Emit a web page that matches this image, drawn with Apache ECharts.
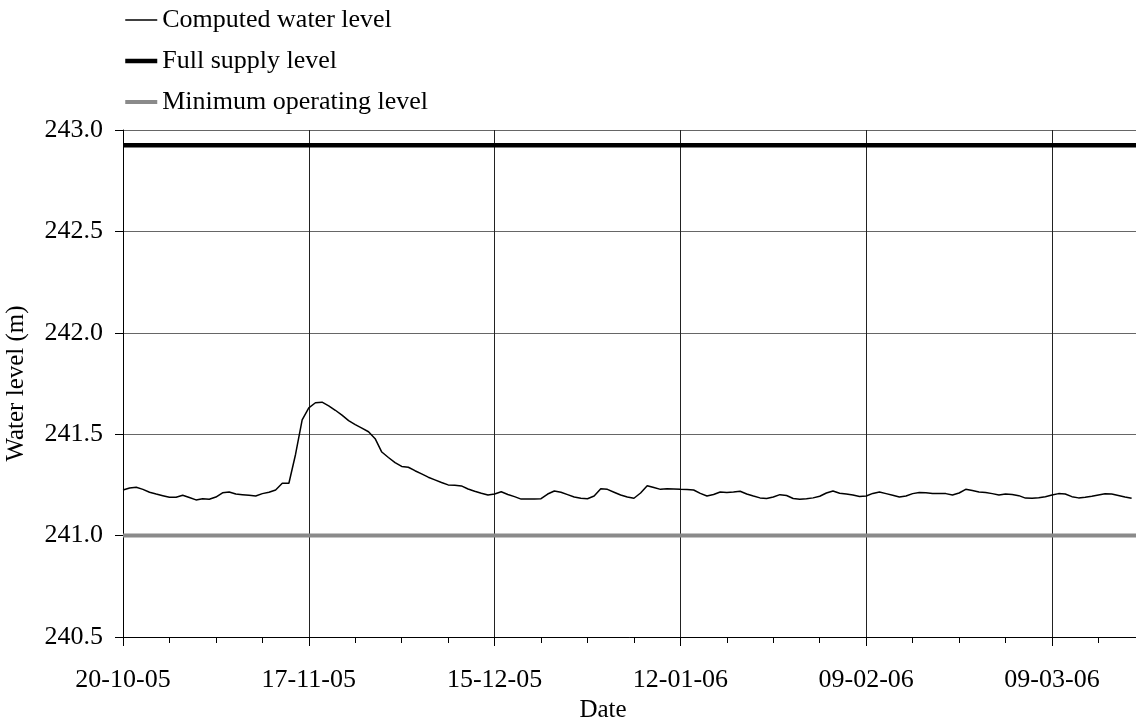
<!DOCTYPE html>
<html>
<head>
<meta charset="utf-8">
<script src="https://cdn.jsdelivr.net/npm/echarts@6/dist/echarts.min.js"></script>
<style>
html,body{margin:0;padding:0;background:#fff;}
#chart{width:1136px;height:722px;}
</style>
</head>
<body>
<div id="chart"></div>
<script>
// ---- data ----
const startDate = '2005-10-20';           // day 0 of the series (daily values)
const seriesNames = ['Computed water level', 'Full supply level', 'Minimum operating level'];
const computedLevel = [
  241.225,241.235,241.238,241.228,241.214,241.205,241.197,241.189,241.189,241.199,
  241.188,241.176,241.182,241.179,241.190,241.211,241.215,241.205,241.202,241.199,
  241.195,241.207,241.214,241.225,241.258,241.258,241.400,241.571,241.630,241.655,
  241.658,241.640,241.618,241.594,241.567,241.547,241.530,241.512,241.478,241.412,
  241.385,241.360,241.341,241.337,241.320,241.304,241.288,241.275,241.262,241.250,
  241.248,241.245,241.230,241.219,241.209,241.200,241.205,241.216,241.203,241.192,
  241.180,241.180,241.181,241.182,241.205,241.220,241.214,241.202,241.190,241.184,
  241.182,241.195,241.231,241.228,241.214,241.200,241.190,241.184,241.210,241.246,
  241.237,241.228,241.231,241.230,241.228,241.227,241.225,241.208,241.195,241.203,
  241.215,241.213,241.215,241.219,241.205,241.195,241.186,241.183,241.190,241.202,
  241.198,241.183,241.179,241.182,241.186,241.194,241.210,241.220,241.209,241.205,
  241.200,241.193,241.195,241.208,241.215,241.207,241.199,241.190,241.195,241.207,
  241.212,241.211,241.208,241.208,241.207,241.200,241.210,241.228,241.222,241.215,
  241.213,241.207,241.200,241.205,241.203,241.197,241.185,241.184,241.187,241.192,
  241.200,241.207,241.205,241.192,241.186,241.189,241.194,241.200,241.206,241.205,
  241.198,241.190,241.184
];
const fullSupplyLevel = 242.925;
const minOperatingLevel = 241.0;
const xRangeDays = [0, 152.66];            // axis extent in days from startDate
const yTicks = [240.5, 241.0, 241.5, 242.0, 242.5, 243.0];

// ---- build ----
const DAY = 86400000;
const t0 = Date.parse(startDate + 'T00:00:00Z');
function fmtDay(d) {
  const dt = new Date(t0 + Math.round(d) * DAY);
  const p = n => String(n).padStart(2, '0');
  return p(dt.getUTCDate()) + '-' + p(dt.getUTCMonth() + 1) + '-' + p(dt.getUTCFullYear() % 100);
}
const computedData = computedLevel.map((v, i) => [i, v]);
const fslData = xRangeDays.map(d => [d, fullSupplyLevel]);
const molData = xRangeDays.map(d => [d, minOperatingLevel]);

const FONT = "'Liberation Serif','Times New Roman',serif";
const chart = echarts.init(document.getElementById('chart'), null, {renderer: 'canvas'});
chart.setOption({
  animation: false,
  backgroundColor: '#fff',
  textStyle: {fontFamily: FONT, color: '#000'},
  legend: {
    orient: 'vertical',
    left: 123, top: 6, padding: 0,
    itemWidth: 32, itemHeight: 14, itemGap: 13,
    itemStyle: {opacity: 0},
    lineStyle: {width: 'inherit'},
    textStyle: {fontFamily: FONT, fontSize: 26, color: '#000', lineHeight: 28},
    data: seriesNames
  },
  grid: {left: 123, right: 0, top: 130, bottom: 85, containLabel: false, outerBoundsMode: 'none'},
  xAxis: {
    type: 'value',
    min: xRangeDays[0], max: xRangeDays[1], interval: 28,
    name: 'Date', nameLocation: 'middle', nameGap: 58,
    nameTextStyle: {fontFamily: FONT, fontSize: 25, color: '#000', padding: [0, 53, 0, 0]},
    axisLine: {onZero: false, lineStyle: {color: '#000', width: 1}},
    axisTick: {show: true, length: 9, lineStyle: {color: '#000'}},
    minorTick: {show: true, splitNumber: 4, length: 6, lineStyle: {color: '#000'}},
    axisLabel: {formatter: fmtDay, showMaxLabel: false, margin: 30, fontFamily: FONT, fontSize: 26, color: '#000'},
    splitLine: {show: true, lineStyle: {color: '#222', width: 1}}
  },
  yAxis: {
    type: 'value',
    min: yTicks[0], max: yTicks[yTicks.length - 1], interval: 0.5,
    name: 'Water level (m)', nameLocation: 'middle', nameGap: 94, nameRotate: 90,
    nameTextStyle: {fontFamily: FONT, fontSize: 25, color: '#000'},
    axisLine: {show: true, lineStyle: {color: '#000', width: 1}},
    axisTick: {show: true, length: 8, lineStyle: {color: '#000'}},
    axisLabel: {formatter: v => v.toFixed(1), margin: 20, fontFamily: FONT, fontSize: 26, color: '#000'},
    splitLine: {show: true, lineStyle: {color: '#666', width: 1.2}}
  },
  series: [
    {
      name: seriesNames[0], type: 'line', data: computedData,
      showSymbol: false, symbol: 'none', z: 5,
      lineStyle: {color: '#000', width: 1.5}, itemStyle: {color: '#000'}
    },
    {
      name: seriesNames[1], type: 'line', data: fslData,
      showSymbol: false, symbol: 'none', z: 4,
      lineStyle: {color: '#000', width: 4.5}, itemStyle: {color: '#000'}
    },
    {
      name: seriesNames[2], type: 'line', data: molData,
      showSymbol: false, symbol: 'none', z: 4,
      lineStyle: {color: '#8a8a8a', width: 4}, itemStyle: {color: '#8a8a8a'}
    }
  ]
});
</script>
</body>
</html>
